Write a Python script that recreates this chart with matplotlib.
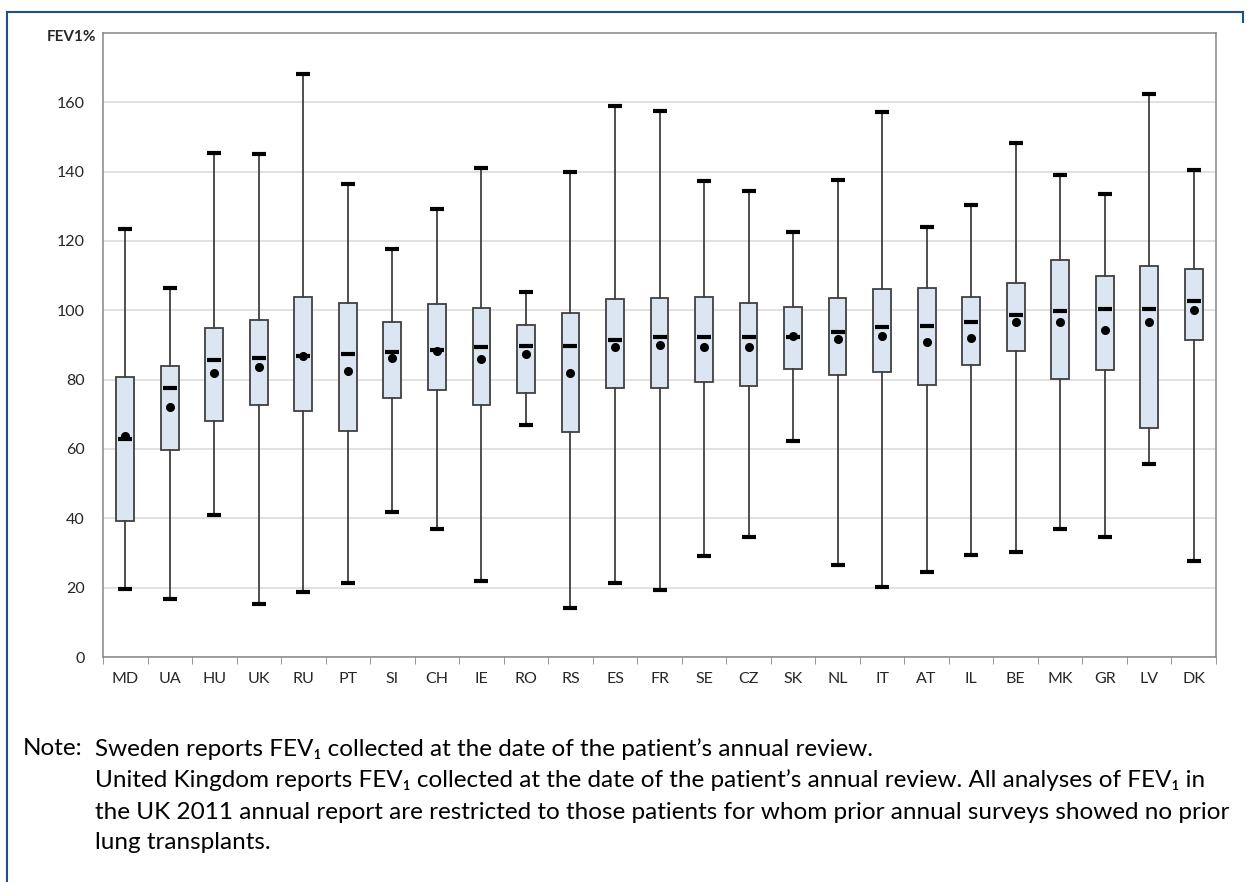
import matplotlib.pyplot as plt
from matplotlib.lines import Line2D

countries = ["MD", "UA", "HU", "UK", "RU", "PT", "SI", "CH", "IE", "RO", "RS", "ES", "FR",
             "SE", "CZ", "SK", "NL", "IT", "AT", "IL", "BE", "MK", "GR", "LV", "DK"]

# FEV1% summary per country
whisker_low = [19.7, 16.8, 41.1, 15.4, 18.8, 21.4, 41.7, 37.0, 22.0, 66.8, 14.2, 21.4, 19.4,
               29.2, 34.7, 62.2, 26.6, 20.3, 24.6, 29.5, 30.4, 36.8, 34.7, 55.8, 27.8]
q1 = [39.3, 59.7, 68.1, 72.6, 70.9, 65.3, 74.7, 77.0, 72.6, 76.2, 65.0, 77.5, 77.7,
      79.2, 78.2, 83.0, 81.3, 82.1, 78.6, 84.1, 88.4, 80.3, 82.9, 66.2, 91.4]
median = [63.0, 77.5, 85.6, 86.2, 86.9, 87.3, 87.9, 88.7, 89.3, 89.6, 89.6, 91.3, 92.2,
          92.2, 92.2, 92.2, 93.7, 95.1, 95.4, 96.6, 98.6, 99.7, 100.3, 100.3, 102.6]
mean = [63.8, 72.2, 81.9, 83.7, 86.8, 82.6, 86.2, 88.3, 85.9, 87.3, 81.8, 89.5, 89.9,
        89.5, 89.5, 92.5, 91.6, 92.6, 90.9, 92.0, 96.7, 96.7, 94.2, 96.7, 100.1]
q3 = [80.9, 84.0, 94.9, 97.3, 103.7, 102.0, 96.7, 101.8, 100.6, 95.9, 99.3, 103.4, 103.6,
      103.8, 102.0, 101.1, 103.5, 106.1, 106.4, 103.8, 108.0, 114.4, 110.0, 112.9, 111.8]
whisker_high = [123.4, 106.5, 145.5, 145.0, 168.2, 136.4, 117.7, 129.3, 141.1, 105.4, 140.0,
                159.0, 157.6, 137.4, 134.5, 122.7, 137.7, 157.3, 124.1, 130.5, 148.4, 139.1,
                133.6, 162.5, 140.6]

y_ticks = [0, 20, 40, 60, 80, 100, 120, 140, 160]

plt.rcParams["font.family"] = ["Lato", "DejaVu Sans"]

fig = plt.figure(figsize=(12.5, 8.82), dpi=100)
ax = fig.add_axes([0.0824, 0.2551, 0.8904, 0.7075])

pos = list(range(1, len(countries) + 1))
stats = []
for i, c in enumerate(countries):
    stats.append(dict(label=c, med=median[i], q1=q1[i], q3=q3[i],
                      whislo=whisker_low[i], whishi=whisker_high[i], mean=mean[i],
                      fliers=[]))

ax.bxp(stats, positions=pos, widths=0.4, showcaps=False, showmeans=False,
       showfliers=False, patch_artist=True,
       boxprops=dict(facecolor="#dce6f2", edgecolor="#404040", linewidth=1.3),
       whiskerprops=dict(color="#404040", linewidth=1.3),
       medianprops=dict(linewidth=0), zorder=3)

# caps, medians and means
mk = dict(linestyle="none", color="black", zorder=5)
ax.plot(pos, whisker_low, marker="_", markersize=9.5, mew=3, **mk)
ax.plot(pos, whisker_high, marker="_", markersize=9.5, mew=3, **mk)
ax.plot(pos, median, marker="_", markersize=9.5, mew=3, **mk)
ax.plot(pos, mean, marker="o", markersize=5.5, **mk)

ax.set_xlim(0.5, len(countries) + 0.5)
ax.set_ylim(0, 180)
ax.set_yticks(y_ticks)
ax.set_xticks(pos)
ax.set_xticklabels(countries)
ax.set_xticks([p + 0.5 for p in [0] + pos], minor=True)
ax.tick_params(axis="x", which="major", length=0, pad=11, labelsize=11.5, labelcolor="#262626")
ax.tick_params(axis="x", which="minor", length=5, color="#868686", direction="out")
ax.tick_params(axis="y", length=0, pad=13, labelsize=11.5, labelcolor="#262626")

ax.yaxis.grid(True, color="#d9d9d9", linewidth=1.1)
ax.set_axisbelow(True)
for s in ax.spines.values():
    s.set_color("#868686")
    s.set_linewidth(1.1)

fig.text(0.0766, 0.958, "FEV1%", ha="right", va="center", fontsize=11, fontweight="bold",
         color="#262626")

# frame around the panel
fc = "#1f4e8c"
fig.add_artist(Line2D([0.0056, 0.0056], [0.0, 0.986], color=fc, lw=1.5, transform=fig.transFigure))
fig.add_artist(Line2D([0.0056, 0.994], [0.986, 0.986], color=fc, lw=1.5, transform=fig.transFigure))
fig.add_artist(Line2D([0.994, 0.994], [0.986, 0.975], color=fc, lw=1.5, transform=fig.transFigure))

note_size = 17.5
fig.text(0.018, 0.151, "Note:", ha="left", va="center", fontsize=note_size, color="black")
note_lines = [
    (0.151, "Sweden reports FEV\u2081 collected at the date of the patient\u2019s annual review."),
    (0.115, "United Kingdom reports FEV\u2081 collected at the date of the patient\u2019s annual review. "
            "All analyses of FEV\u2081 in"),
    (0.079, "the UK 2011 annual report are restricted to those patients for whom prior annual "
            "surveys showed no prior"),
    (0.045, "lung transplants."),
]
for y, t in note_lines:
    fig.text(0.076, y, t, ha="left", va="center", fontsize=note_size, color="black")

fig.savefig("out.png", dpi=100)
